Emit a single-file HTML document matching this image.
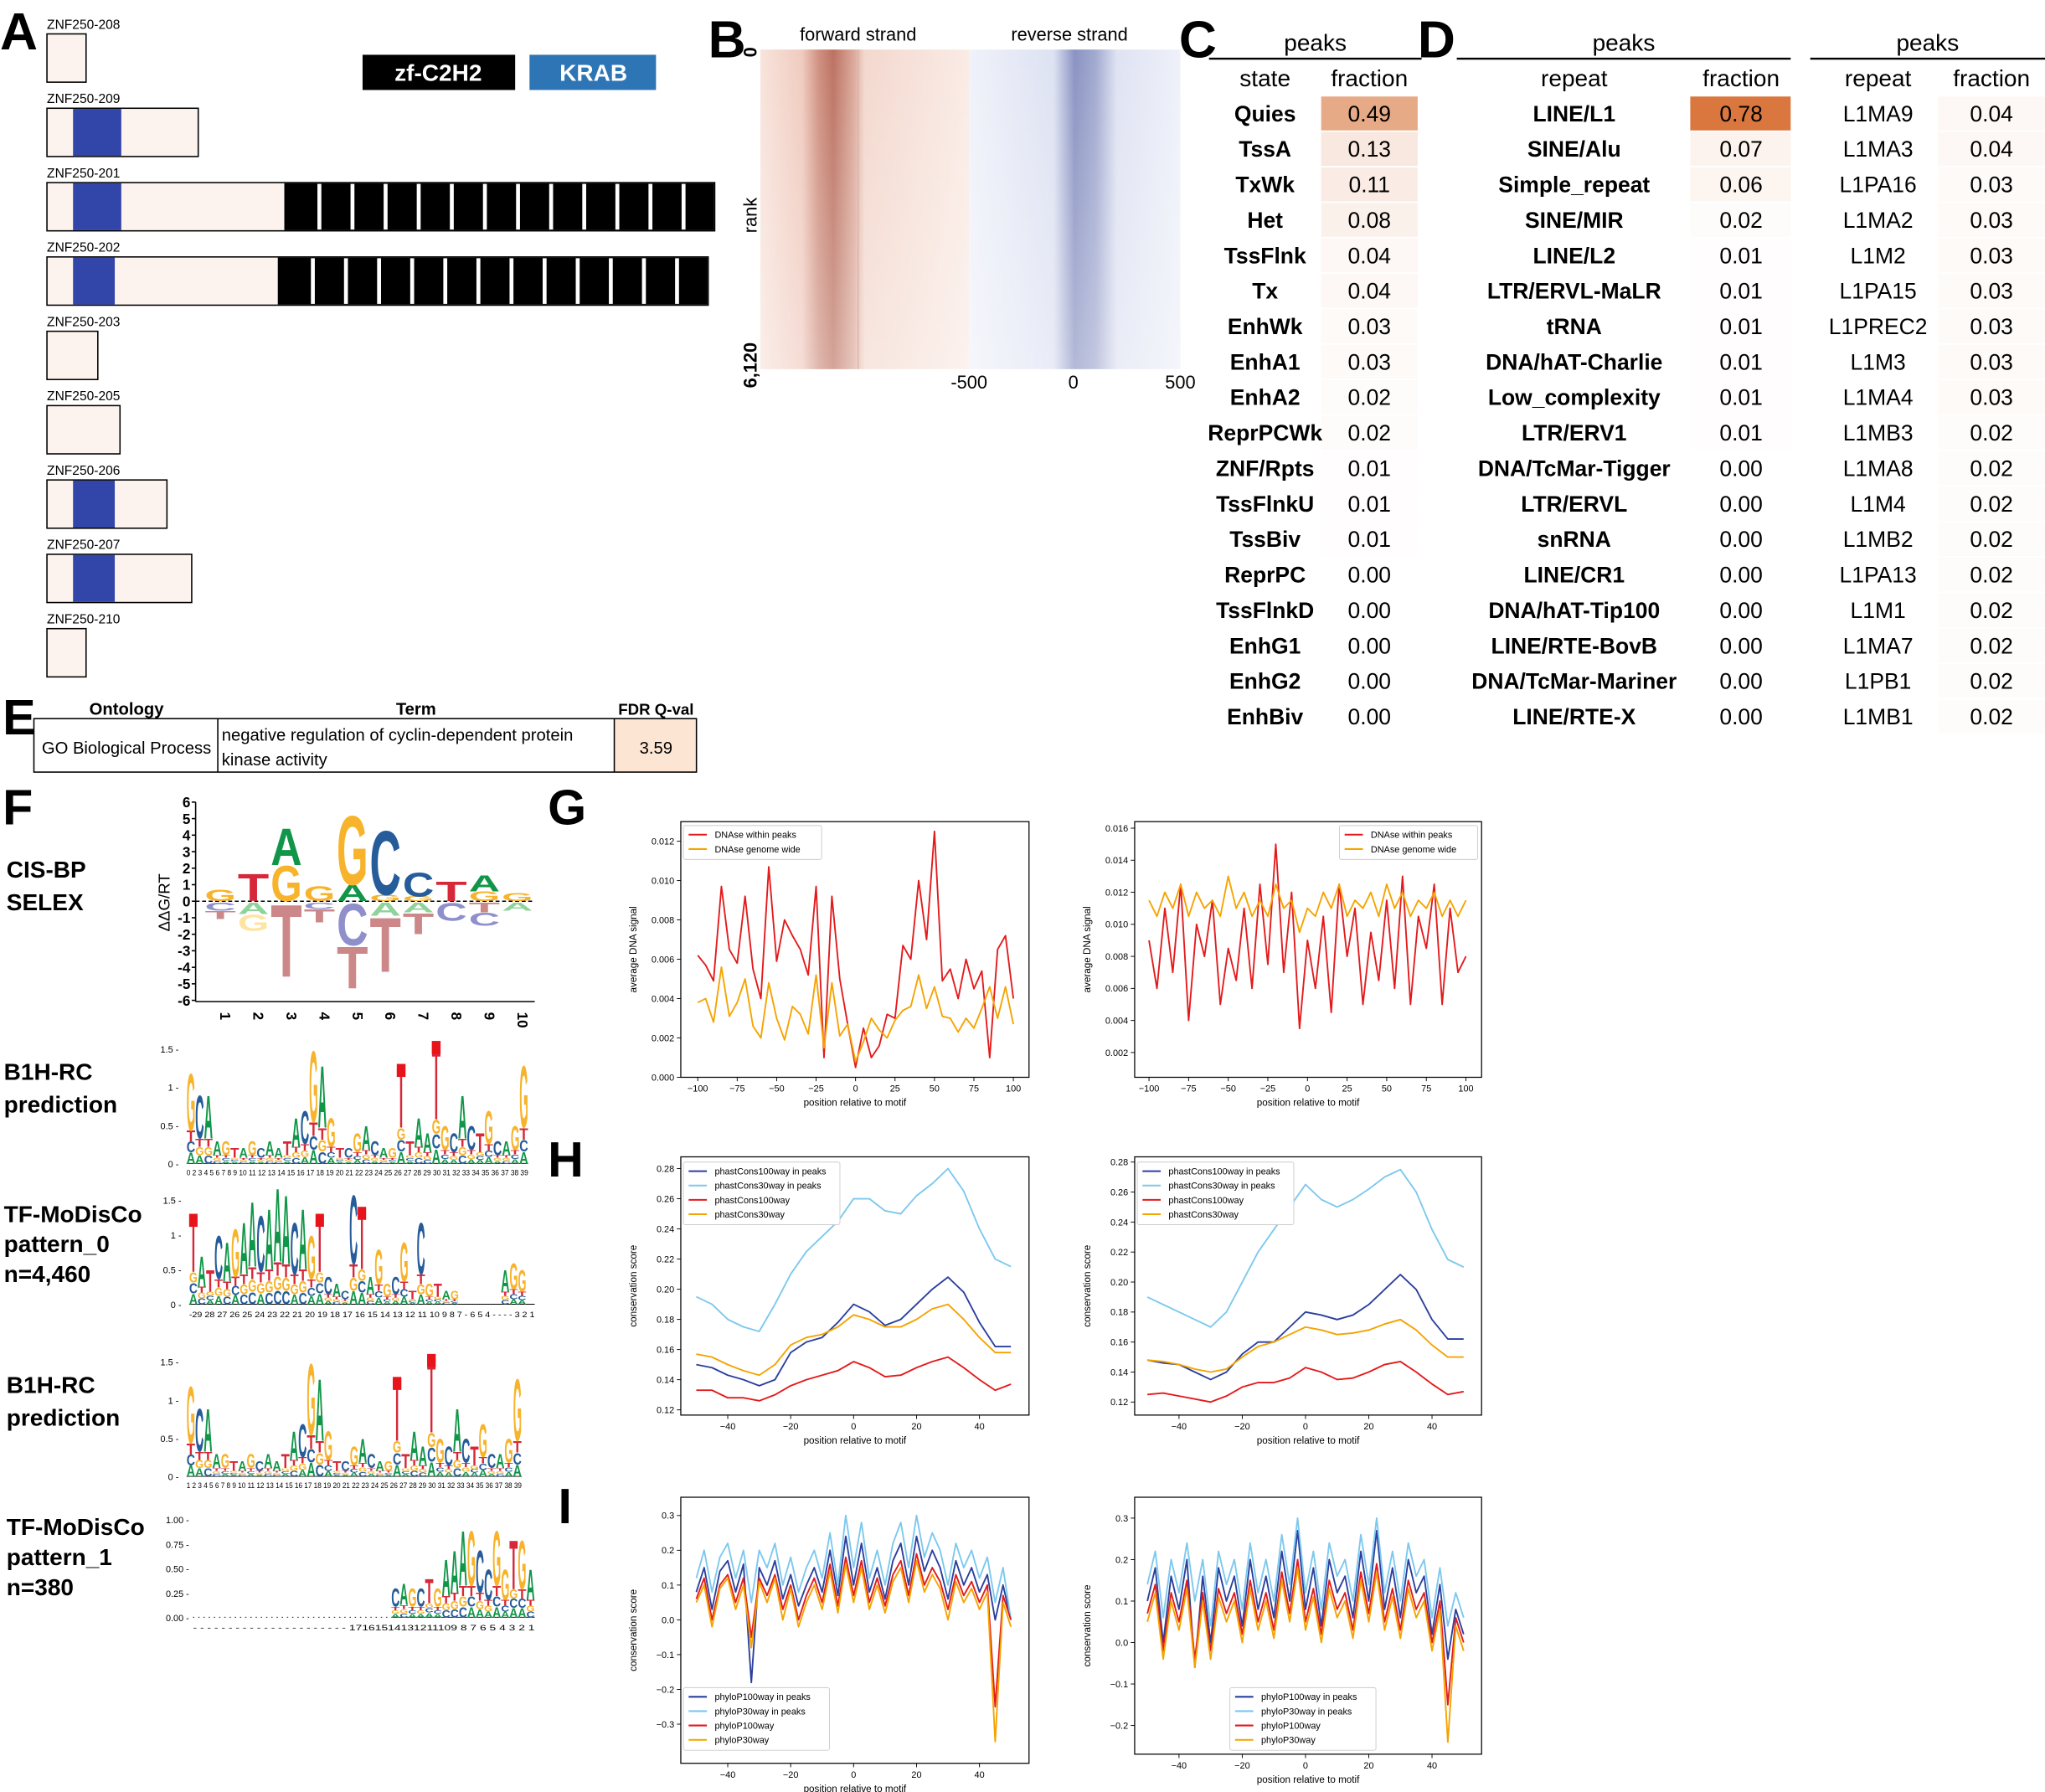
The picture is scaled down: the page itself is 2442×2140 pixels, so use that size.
<!DOCTYPE html>
<html><head><meta charset="utf-8"><style>
html,body{margin:0;padding:0;background:#fff;}
svg{display:block;}
text{font-family:"Liberation Sans",sans-serif;}
</style></head>
<body>
<svg id="fig" xmlns="http://www.w3.org/2000/svg" width="2442" height="2140" viewBox="0 0 1568 1374" preserveAspectRatio="none">
<defs>
<linearGradient id="fwdGrad" x1="0" x2="1" y1="0" y2="0">
<stop offset="0" stop-color="#f8e4dc"/><stop offset="0.2" stop-color="#f0cbbf"/><stop offset="0.28" stop-color="#cf9080"/><stop offset="0.35" stop-color="#bc7262"/><stop offset="0.45" stop-color="#dcaa9c"/><stop offset="0.5" stop-color="#f3d8ce"/><stop offset="1" stop-color="#faebe5"/>
</linearGradient>
<linearGradient id="revGrad" x1="0" x2="1" y1="0" y2="0">
<stop offset="0" stop-color="#f0f2fa"/><stop offset="0.4" stop-color="#dde2f2"/><stop offset="0.5" stop-color="#8a93c2"/><stop offset="0.6" stop-color="#a2aad0"/><stop offset="0.7" stop-color="#dfe3f2"/><stop offset="1" stop-color="#eef1f9"/>
</linearGradient>
<linearGradient id="fadeDown" x1="0" x2="0" y1="0" y2="1">
<stop offset="0" stop-color="#fff" stop-opacity="0"/><stop offset="1" stop-color="#fff" stop-opacity="0.35"/>
</linearGradient>
</defs>
</svg>
<script>
// ---------- data ----------
const transcriptNames = ['ZNF250-208','ZNF250-209','ZNF250-201','ZNF250-202','ZNF250-203','ZNF250-205','ZNF250-206','ZNF250-207','ZNF250-210'];
const transcriptEnds = [66,152,548,543,75,92,128,147,66];
const krabEnds = [0,93,93,88,0,0,88,88,0];
const zfStarts = [0,0,218,213,0,0,0,0,0];

const stateNames = ['Quies','TssA','TxWk','Het','TssFlnk','Tx','EnhWk','EnhA1','EnhA2','ReprPCWk','ZNF/Rpts','TssFlnkU','TssBiv','ReprPC','TssFlnkD','EnhG1','EnhG2','EnhBiv'];
const stateFrac = [0.49,0.13,0.11,0.08,0.04,0.04,0.03,0.03,0.02,0.02,0.01,0.01,0.01,0.00,0.00,0.00,0.00,0.00];
const repeatNames = ['LINE/L1','SINE/Alu','Simple_repeat','SINE/MIR','LINE/L2','LTR/ERVL-MaLR','tRNA','DNA/hAT-Charlie','Low_complexity','LTR/ERV1','DNA/TcMar-Tigger','LTR/ERVL','snRNA','LINE/CR1','DNA/hAT-Tip100','LINE/RTE-BovB','DNA/TcMar-Mariner','LINE/RTE-X'];
const repeatFrac = [0.78,0.07,0.06,0.02,0.01,0.01,0.01,0.01,0.01,0.01,0.00,0.00,0.00,0.00,0.00,0.00,0.00,0.00];
const subNames = ['L1MA9','L1MA3','L1PA16','L1MA2','L1M2','L1PA15','L1PREC2','L1M3','L1MA4','L1MB3','L1MA8','L1M4','L1MB2','L1PA13','L1M1','L1MA7','L1PB1','L1MB1'];
const subFrac = [0.04,0.04,0.03,0.03,0.03,0.03,0.03,0.03,0.03,0.02,0.02,0.02,0.02,0.02,0.02,0.02,0.02,0.02];

// G: DNase (x = -100..100 step 5)
const gX = [-100,-95,-90,-85,-80,-75,-70,-65,-60,-55,-50,-45,-40,-35,-30,-25,-20,-15,-10,-5,0,5,10,15,20,25,30,35,40,45,50,55,60,65,70,75,80,85,90,95,100];
const g1Red = [0.0062,0.0057,0.0049,0.0097,0.0065,0.0058,0.0092,0.0055,0.0040,0.0107,0.0059,0.0080,0.0072,0.0065,0.0052,0.0097,0.0010,0.0092,0.0050,0.0027,0.0005,0.0025,0.0010,0.0016,0.0032,0.0030,0.0067,0.0060,0.0100,0.0070,0.0125,0.0049,0.0055,0.0040,0.0060,0.0045,0.0054,0.0010,0.0065,0.0072,0.0040];
const g1Orange = [0.0038,0.0040,0.0028,0.0056,0.0031,0.0038,0.0050,0.0026,0.0020,0.0048,0.0030,0.0019,0.0036,0.0032,0.0022,0.0052,0.0015,0.0048,0.0021,0.0027,0.0008,0.0018,0.0030,0.0024,0.0020,0.0029,0.0034,0.0036,0.0052,0.0035,0.0046,0.0031,0.0030,0.0023,0.0030,0.0025,0.0035,0.0046,0.0030,0.0046,0.0027];
const g2Red = [0.0090,0.0060,0.0110,0.0070,0.0125,0.0040,0.0100,0.0080,0.0115,0.0050,0.0085,0.0065,0.0110,0.0060,0.0125,0.0075,0.0150,0.0070,0.0120,0.0035,0.0090,0.0060,0.0105,0.0045,0.0125,0.0080,0.0110,0.0050,0.0095,0.0065,0.0115,0.0060,0.0130,0.0050,0.0105,0.0085,0.0125,0.0050,0.0110,0.0070,0.0080];
const g2Orange = [0.0115,0.0105,0.0120,0.0110,0.0125,0.0105,0.0120,0.0110,0.0115,0.0105,0.0130,0.0110,0.0120,0.0105,0.0115,0.0105,0.0125,0.0110,0.0115,0.0095,0.0110,0.0105,0.0120,0.0110,0.0125,0.0105,0.0115,0.0110,0.0120,0.0105,0.0125,0.0110,0.0120,0.0105,0.0115,0.0110,0.0120,0.0105,0.0115,0.0105,0.0115];

// H: phastCons (x = -50..50 step 5)
const hX = [-50,-45,-40,-35,-30,-25,-20,-15,-10,-5,0,5,10,15,20,25,30,35,40,45,50];
const h1Light = [0.195,0.19,0.18,0.175,0.172,0.19,0.21,0.225,0.235,0.245,0.26,0.26,0.252,0.25,0.262,0.27,0.28,0.265,0.24,0.22,0.215];
const h1Dark = [0.15,0.148,0.143,0.14,0.136,0.14,0.158,0.165,0.168,0.178,0.19,0.185,0.176,0.18,0.19,0.2,0.208,0.198,0.178,0.162,0.162];
const h1Red = [0.133,0.133,0.128,0.128,0.126,0.13,0.136,0.14,0.143,0.146,0.152,0.148,0.142,0.143,0.148,0.152,0.155,0.148,0.14,0.133,0.137];
const h1Orange = [0.157,0.155,0.15,0.146,0.143,0.15,0.163,0.168,0.17,0.175,0.183,0.18,0.175,0.175,0.18,0.187,0.19,0.18,0.168,0.158,0.158];
const h2Light = [0.19,0.185,0.18,0.175,0.17,0.18,0.2,0.22,0.235,0.25,0.265,0.255,0.25,0.255,0.262,0.27,0.275,0.26,0.235,0.215,0.21];
const h2Dark = [0.148,0.146,0.145,0.14,0.135,0.14,0.152,0.16,0.16,0.17,0.18,0.178,0.175,0.178,0.185,0.195,0.205,0.195,0.175,0.162,0.162];
const h2Red = [0.125,0.126,0.124,0.122,0.12,0.124,0.13,0.133,0.133,0.136,0.143,0.14,0.135,0.136,0.14,0.145,0.147,0.14,0.132,0.125,0.127];
const h2Orange = [0.148,0.147,0.145,0.142,0.14,0.142,0.15,0.157,0.16,0.165,0.17,0.168,0.165,0.166,0.168,0.172,0.175,0.168,0.158,0.15,0.15];

// I: phyloP (x = -50..50 step 2.5)
const iX = [-50,-47.5,-45,-42.5,-40,-37.5,-35,-32.5,-30,-27.5,-25,-22.5,-20,-17.5,-15,-12.5,-10,-7.5,-5,-2.5,0,2.5,5,7.5,10,12.5,15,17.5,20,22.5,25,27.5,30,32.5,35,37.5,40,42.5,45,47.5,50];
const i1Light = [0.12,0.2,0.08,0.18,0.22,0.12,0.2,0.05,0.2,0.15,0.22,0.1,0.18,0.08,0.15,0.2,0.12,0.25,0.1,0.3,0.15,0.28,0.12,0.2,0.1,0.22,0.28,0.15,0.3,0.18,0.25,0.2,0.1,0.22,0.15,0.2,0.12,0.18,0.05,0.15,0.0];
const i1Dark = [0.08,0.15,0.03,0.14,0.17,0.08,0.16,-0.18,0.15,0.1,0.17,0.06,0.13,0.04,0.1,0.15,0.08,0.2,0.07,0.24,0.1,0.22,0.08,0.15,0.06,0.17,0.22,0.1,0.24,0.14,0.2,0.15,0.06,0.17,0.1,0.15,0.08,0.13,0.0,0.1,0.0];
const i1Red = [0.06,0.12,0.0,0.1,0.13,0.05,0.12,-0.05,0.12,0.07,0.13,0.03,0.1,0.0,0.07,0.12,0.05,0.16,0.04,0.18,0.07,0.17,0.05,0.12,0.04,0.13,0.17,0.07,0.19,0.1,0.15,0.11,0.03,0.13,0.07,0.11,0.05,0.1,-0.25,0.07,0.0];
const i1Orange = [0.05,0.1,-0.02,0.09,0.12,0.03,0.1,-0.08,0.11,0.05,0.12,0.0,0.09,-0.02,0.05,0.1,0.03,0.14,0.02,0.16,0.05,0.15,0.03,0.1,0.02,0.11,0.15,0.05,0.17,0.08,0.13,0.09,0.0,0.11,0.05,0.09,0.03,0.08,-0.35,0.05,-0.02];
const i2Light = [0.14,0.22,0.06,0.2,0.12,0.24,0.1,0.2,0.04,0.22,0.14,0.2,0.08,0.24,0.12,0.2,0.1,0.26,0.14,0.3,0.12,0.22,0.08,0.24,0.16,0.2,0.1,0.26,0.14,0.3,0.12,0.22,0.1,0.24,0.16,0.2,0.06,0.18,0.04,0.12,0.06];
const i2Dark = [0.1,0.18,0.0,0.16,0.08,0.2,-0.06,0.16,0.0,0.18,0.1,0.16,0.04,0.2,0.08,0.16,0.06,0.22,0.1,0.27,0.08,0.18,0.04,0.2,0.12,0.16,0.06,0.22,0.1,0.27,0.08,0.18,0.06,0.2,0.12,0.16,0.02,0.14,-0.04,0.08,0.02];
const i2Red = [0.07,0.14,-0.02,0.12,0.05,0.15,-0.04,0.12,-0.02,0.13,0.07,0.12,0.02,0.15,0.05,0.12,0.03,0.17,0.07,0.2,0.05,0.13,0.02,0.15,0.08,0.12,0.03,0.17,0.07,0.19,0.05,0.13,0.03,0.15,0.08,0.12,0.0,0.1,-0.15,0.06,0.0];
const i2Orange = [0.05,0.12,-0.04,0.1,0.03,0.13,-0.06,0.1,-0.04,0.11,0.05,0.1,0.0,0.13,0.03,0.1,0.01,0.15,0.05,0.18,0.03,0.11,0.0,0.13,0.06,0.1,0.01,0.15,0.05,0.17,0.03,0.11,0.01,0.13,0.06,0.1,-0.02,0.08,-0.24,0.04,-0.02];

// ---------- helpers ----------
const NS = 'http://www.w3.org/2000/svg';
const svg = document.getElementById('fig');
function mk(tag, attrs, name, parent) {
  const el = document.createElementNS(NS, tag);
  for (const k in attrs) el.setAttribute(k, attrs[k]);
  
  
  (parent || svg).appendChild(el);
  return el;
}
function txt(x, y, s, size, opt, name, parent) {
  opt = opt || {};
  const a = {x: x, y: y, 'font-size': size, fill: opt.fill || '#000', 'text-anchor': opt.anchor || 'start'};
  if (opt.bold) a['font-weight'] = 'bold';
  if (opt.transform) a.transform = opt.transform;
  if (opt.len) { a.textLength = opt.len; a.lengthAdjust = 'spacingAndGlyphs'; }
  const el = mk('text', a, name, parent);
  el.textContent = s;
  return el;
}
function lin(v0, p0, v1, p1) { return v => p0 + (v - v0) * (p1 - p0) / (v1 - v0); }

// ---------- Panel A ----------
txt(0, 38, 'A', 40, {bold: true}, 'panel-a-label');
for (let i = 0; i < transcriptNames.length; i++) {
  const ly = 22 + i * 57;
  txt(36, ly, transcriptNames[i], 10, {}, 'transcript-label');
  const by = ly + 4, bh = 37;
  mk('rect', {x: 36, y: by, width: transcriptEnds[i] - 36, height: bh, fill: '#fdf3ee', stroke: '#000', 'stroke-width': 1}, 'transcript-box');
  if (krabEnds[i]) mk('rect', {x: 56, y: by + 0.5, width: krabEnds[i] - 56, height: bh - 1, fill: '#3245a8'}, 'krab-domain');
  if (zfStarts[i]) {
    mk('rect', {x: zfStarts[i], y: by + 0.5, width: transcriptEnds[i] - zfStarts[i] - 0.5, height: bh - 1, fill: '#000'}, 'zf-c2h2-region');
    const n = 13, w = (transcriptEnds[i] - zfStarts[i]) / n;
    for (let k = 1; k < n; k++) mk('rect', {x: zfStarts[i] + k * w, y: by + 1, width: 3, height: bh - 2, fill: '#fff'}, 'zf-separator');
  }
}
mk('rect', {x: 278, y: 42, width: 117, height: 27, fill: '#000'}, 'legend-zf-c2h2-box');
txt(336, 62, 'zf-C2H2', 18, {fill: '#fff', anchor: 'middle', bold: true}, 'legend-zf-c2h2-label');
mk('rect', {x: 406, y: 42, width: 97, height: 27, fill: '#2e75b6'}, 'legend-krab-box');
txt(455, 62, 'KRAB', 18, {fill: '#fff', anchor: 'middle', bold: true}, 'legend-krab-label');

// ---------- Panel B ----------
txt(543, 44, 'B', 40, {bold: true}, 'panel-b-label');
mk('rect', {x: 583, y: 38, width: 160, height: 245, fill: 'url(#fwdGrad)'}, 'forward-strand-heatmap');
mk('rect', {x: 743, y: 38, width: 162, height: 245, fill: 'url(#revGrad)'}, 'reverse-strand-heatmap');
mk('rect', {x: 583, y: 38, width: 322, height: 245, fill: 'url(#fadeDown)'}, 'heatmap-fade');
mk('line', {x1: 658, x2: 658, y1: 38, y2: 283, stroke: '#d8b0a4', 'stroke-width': 0.8}, 'forward-center-line');
txt(658, 31, 'forward strand', 14, {anchor: 'middle'}, 'forward-strand-title');
txt(820, 31, 'reverse strand', 14, {anchor: 'middle'}, 'reverse-strand-title');
txt(580, 165, 'rank', 14, {anchor: 'middle', transform: 'rotate(-90 580 165)'}, 'rank-axis-title');
txt(580, 40, '0', 14, {anchor: 'middle', bold: true, transform: 'rotate(-90 580 40)'}, 'rank-tick-0');
txt(580, 280, '6,120', 14, {anchor: 'middle', bold: true, transform: 'rotate(-90 580 280)'}, 'rank-tick-6120');
txt(743, 298, '-500', 14, {anchor: 'middle'}, 'x-tick-minus500');
txt(823, 298, '0', 14, {anchor: 'middle'}, 'x-tick-0');
txt(905, 298, '500', 14, {anchor: 'middle'}, 'x-tick-500');

// ---------- Tables C & D ----------
function cellColor(v) {
  const t = Math.min(1, v / 0.78);
  const r = Math.round(255 + (217 - 255) * t), g = Math.round(255 + (119 - 255) * t), b = Math.round(255 + (63 - 255) * t);
  return 'rgb(' + r + ',' + g + ',' + b + ')';
}
function table(names, vals, x0, x1, nameX, valX, cellX0, cellX1, nameHeader, tag) {
  txt((x0 + x1) / 2, 39, 'peaks', 18, {anchor: 'middle'}, tag + '-peaks-header');
  mk('line', {x1: x0, x2: x1, y1: 45, y2: 45, stroke: '#000', 'stroke-width': 1.5}, tag + '-header-rule');
  txt(nameX, 66, nameHeader, 18, {anchor: 'middle'}, tag + '-name-header');
  txt(valX, 66, 'fraction', 18, {anchor: 'middle'}, tag + '-fraction-header');
  for (let i = 0; i < names.length; i++) {
    const cy = 87 + i * 27.2;
    mk('rect', {x: cellX0, y: cy - 13, width: cellX1 - cellX0, height: 26, fill: cellColor(vals[i])}, tag + '-fraction-cell');
    txt(nameX, cy + 6, names[i], 17, {anchor: 'middle', bold: tag !== 'subfamily'}, tag + '-row-name');
    txt(valX, cy + 6, vals[i].toFixed(2), 17, {anchor: 'middle'}, tag + '-row-value');
  }
}
txt(904, 44, 'C', 40, {bold: true}, 'panel-c-label');
table(stateNames, stateFrac, 927, 1090, 970, 1050, 1013, 1087, 'state', 'state');
txt(1087, 44, 'D', 40, {bold: true}, 'panel-d-label');
table(repeatNames, repeatFrac, 1117, 1373, 1207, 1335, 1296, 1373, 'repeat', 'repeat');
table(subNames, subFrac, 1388, 1568, 1440, 1527, 1486, 1568, 'repeat', 'subfamily');

// ---------- Panel E ----------
txt(2, 563, 'E', 38, {bold: true}, 'panel-e-label');
txt(97, 548, 'Ontology', 13, {anchor: 'middle', bold: true}, 'ontology-header');
txt(319, 548, 'Term', 13, {anchor: 'middle', bold: true}, 'term-header');
txt(503, 548, 'FDR Q-val', 12, {anchor: 'middle', bold: true}, 'fdr-header');
mk('rect', {x: 471, y: 551, width: 63, height: 41, fill: '#fde5d3'}, 'fdr-cell');
mk('rect', {x: 26, y: 551, width: 508, height: 41, fill: 'none', stroke: '#000', 'stroke-width': 1}, 'go-table-border');
mk('line', {x1: 167, x2: 167, y1: 551, y2: 592, stroke: '#000'}, 'go-table-divider');
mk('line', {x1: 471, x2: 471, y1: 551, y2: 592, stroke: '#000'}, 'go-table-divider');
txt(97, 578, 'GO Biological Process', 13, {anchor: 'middle'}, 'ontology-value');
txt(170, 568, 'negative regulation of cyclin-dependent protein', 13, {}, 'term-value-line1');
txt(170, 587, 'kinase activity', 13, {}, 'term-value-line2');
txt(503, 578, '3.59', 13, {anchor: 'middle'}, 'fdr-value');

// ---------- Panel F ----------
txt(2, 632, 'F', 38, {bold: true}, 'panel-f-label');
const fLabels = [[5, 673, 'CIS-BP'], [5, 698, 'SELEX'], [3, 828, 'B1H-RC'], [3, 853, 'prediction'], [3, 937, 'TF-MoDisCo'], [3, 960, 'pattern_0'], [3, 983, 'n=4,460'], [5, 1068, 'B1H-RC'], [5, 1093, 'prediction'], [5, 1177, 'TF-MoDisCo'], [5, 1200, 'pattern_1'], [5, 1223, 'n=380']];
fLabels.forEach(l => txt(l[0], l[1], l[2], 18, {bold: true}, 'logo-row-label'));

const COL = {A: '#109648', C: '#255c99', G: '#f7b32b', T: '#d62839'};
const PALE = {A: '#8fd29a', C: '#8f8fcc', G: '#fde4a0', T: '#cc8888'};
function letter(ch, x, yTop, w, h, color, name) {
  if (h < 0.8) return;
  const fs = h / 0.72;
  mk('text', {x: x, y: yTop + h, 'font-size': fs, 'font-weight': 'bold', fill: color, textLength: w, lengthAdjust: 'spacingAndGlyphs'}, name).textContent = ch;
}
const cisPos = [['G:0.7'], ['T:1.7'], ['G:2.2', 'A:2.3'], ['G:0.9'], ['A:1.0', 'G:4.3'], ['G:0.4', 'C:4.0'], ['G:0.3', 'C:1.5'], ['T:1.2'], ['G:0.6', 'A:1.0'], ['G:0.5']];
const cisNeg = [['C:-0.5', 'T:-0.5'], ['A:-0.7', 'G:-1.0'], ['T:-4.5'], ['C:-0.4', 'T:-0.8'], ['C:-2.6', 'T:-2.6'], ['A:-0.8', 'T:-3.4'], ['A:-0.6', 'T:-1.3'], ['C:-1.1'], ['T:-0.6', 'C:-0.8'], ['A:-0.5']];
(function () {
  const y = lin(0, 691, 6, 615), ax = 150;
  mk('line', {x1: ax, x2: ax, y1: 615, y2: 768, stroke: '#000'}, 'cis-y-axis');
  mk('line', {x1: ax, x2: 410, y1: 768, y2: 768, stroke: '#000'}, 'cis-x-axis');
  mk('line', {x1: ax, x2: 410, y1: 691, y2: 691, stroke: '#000', 'stroke-dasharray': '3,2'}, 'cis-zero-line');
  for (let t = -6; t <= 6; t++) { txt(ax - 4, y(t) + 4, String(t), 11, {anchor: 'end', bold: true}, 'cis-y-tick'); mk('line', {x1: ax - 3, x2: ax, y1: y(t), y2: y(t), stroke: '#000'}, 'cis-y-tick-mark'); }
  txt(130, 692, 'ΔΔG/RT', 12, {anchor: 'middle', transform: 'rotate(-90 130 692)'}, 'cis-y-title');
  for (let i = 0; i < 10; i++) {
    const cx = 157 + i * 25.3, w = 24;
    txt(cx + 16, 772, String(i + 1), 11, {bold: true, transform: 'rotate(90 ' + (cx + 12) + ' 772)'}, 'cis-x-tick');
    let acc = 0;
    cisPos[i].forEach(s => { const [c, v] = s.split(':'); const h = +v; letter(c, cx, y(acc + h), w, y(acc) - y(acc + h), COL[c], 'cis-letter'); acc += h; });
    acc = 0;
    cisNeg[i].forEach(s => { const [c, v] = s.split(':'); const h = -v; letter(c, cx, y(-acc) + 1, w, y(-acc - h) - y(-acc), PALE[c], 'cis-neg-letter'); acc += h; });
  }
})();
function logo(x0, x1, yBase, yTop, maxV, ticks, letters, heights, name) {
  const y = lin(0, yBase, maxV, yTop);
  mk('line', {x1: x0, x2: x1, y1: yBase, y2: yBase, stroke: '#000', 'stroke-width': 0.6}, name + '-baseline');
  ticks.forEach(t => txt(x0 - 6, y(t) + 3, t + ' -', 7, {anchor: 'end'}, name + '-y-tick'));
  const n = heights.length, w = (x1 - x0) / n;
  for (let i = 0; i < n; i++) {
    const h = heights[i];
    if (h <= 0) continue;
    const c = letters[i];
    const fill = 0.12;
    const others = 'ACGT'.replace(c, '');
    let acc = 0;
    for (let k = 0; k < 3; k++) { letter(others[k], x0 + i * w, y(acc + fill * h), w, y(acc) - y(acc + fill * h), COL[others[k]], name + '-small-letter'); acc += fill * h; }
    letter(c, x0 + i * w, y(h), w, y(acc) - y(h), COL[c], name + '-letter');
    if (h > 1.2 && c === 'T') mk('rect', {x: x0 + i * w, y: y(h), width: w, height: 10, fill: '#e8141c'}, name + '-t-cap');
  }
}
const b1Letters = 'GCAAGTAGCAATACGAGTCGACAGTTAATGCACTGCAGG';
const b1Heights = [1.2, 0.9, 0.9, 0.3, 0.3, 0.2, 0.2, 0.3, 0.2, 0.3, 0.2, 0.3, 0.6, 0.7, 1.5, 1.3, 0.6, 0.2, 0.2, 0.4, 0.5, 0.3, 0.2, 0.2, 1.3, 0.3, 0.6, 0.4, 1.6, 0.5, 0.4, 0.9, 0.5, 0.4, 0.7, 0.3, 0.3, 0.5, 1.3];
logo(143, 405, 892, 804, 1.5, [0.0, 0.5, 1.0, 1.5], b1Letters, b1Heights, 'b1h-logo-1');
txt(143, 901, '0 2 3 4 5 6 7 8 9 10 11 12 13 14 15 16 17 18 19 20 21 22 23 24 25 26 27 28 29 30 31 32 33 34 35 36 37 38 39', 6, {len: 262}, 'b1h-logo-1-x-ticks');
const p0Letters = 'TATCAGAACAAACAGTCACCTAGGCGTCGTAGTCCAGAGGC';
const p0Heights = [1.3, 0.7, 0.5, 1.0, 0.9, 1.1, 1.2, 1.5, 1.3, 1.4, 1.7, 1.6, 1.2, 1.4, 1.0, 1.3, 0.4, 0.3, 0.2, 1.6, 1.4, 0.4, 0.8, 0.3, 0.4, 0.9, 0.2, 1.2, 0.3, 0.3, 0.2, 0.2, 0.0, 0.0, 0.0, 0.0, 0.0, 0.5, 0.6, 0.5, 0.0];
logo(145, 410, 1000, 920, 1.5, [0.0, 0.5, 1.0, 1.5], p0Letters, p0Heights, 'pattern0-logo');
txt(145, 1010, '-29 28 27 26 25 24 23 22 21 20 19 18 17 16 15 14 13 12 11 10 9 8 7 - 6 5 4 - - - - 3 2 1', 6, {len: 265}, 'pattern0-logo-x-ticks');
logo(143, 400, 1132, 1044, 1.5, [0.0, 0.5, 1.0, 1.5], b1Letters, b1Heights, 'b1h-logo-2');
txt(143, 1141, '1 2 3 4 5 6 7 8 9 10 11 12 13 14 15 16 17 18 19 20 21 22 23 24 25 26 27 28 29 30 31 32 33 34 35 36 37 38 39', 6, {len: 257}, 'b1h-logo-2-x-ticks');
const p1Letters = 'CAGCTGAAAGCCGGTGA';
const p1Heights = [0.3, 0.35, 0.3, 0.3, 0.4, 0.3, 0.6, 0.7, 0.9, 0.9, 0.7, 0.5, 0.9, 0.5, 0.8, 0.8, 0.5];
logo(300, 410, 1240, 1165, 1.0, [], p1Letters, p1Heights, 'pattern1-logo');
[0.0, 0.25, 0.5, 0.75, 1.0].forEach(t => txt(145, 1240 - t * 75 + 3, t.toFixed(2) + ' -', 7, {anchor: 'end'}, 'pattern1-y-tick'));
mk('line', {x1: 148, x2: 300, y1: 1240, y2: 1240, stroke: '#000', 'stroke-width': 0.6, 'stroke-dasharray': '1,3'}, 'pattern1-empty-baseline');
txt(148, 1250, '- - - - - - - - - - - - - - - - - - - - - - 17161514131211109 8 7 6 5 4 3 2 1', 6, {len: 262}, 'pattern1-x-ticks');

// ---------- line plots ----------
const C_DARK = '#2a3f9d', C_LIGHT = '#7cc8ee', C_RED = '#e31a1c', C_OR = '#f5a300';
function lineplot(cfg) {
  const f = cfg.frame;
  const xs = lin(cfg.xr[0], cfg.xr[1], cfg.xr[2], cfg.xr[3]);
  const ys = lin(cfg.yr[0], cfg.yr[1], cfg.yr[2], cfg.yr[3]);
  mk('rect', {x: f[0], y: f[1], width: f[2] - f[0], height: f[3] - f[1], fill: '#fff', stroke: '#000', 'stroke-width': 0.8}, cfg.name + '-frame');
  cfg.xticks.forEach(t => {
    mk('line', {x1: xs(t), x2: xs(t), y1: f[3], y2: f[3] + 3, stroke: '#000', 'stroke-width': 0.6}, cfg.name + '-x-tick-mark');
    txt(xs(t), f[3] + 11, String(t).replace('-', '−'), 7, {anchor: 'middle'}, cfg.name + '-x-tick');
  });
  cfg.yticks.forEach(t => {
    mk('line', {x1: f[0] - 3, x2: f[0], y1: ys(t), y2: ys(t), stroke: '#000', 'stroke-width': 0.6}, cfg.name + '-y-tick-mark');
    txt(f[0] - 5, ys(t) + 2.5, t.toFixed(cfg.dec).replace('-', '−'), 7, {anchor: 'end'}, cfg.name + '-y-tick');
  });
  txt((f[0] + f[2]) / 2, f[3] + 22, 'position relative to motif', 7.5, {anchor: 'middle'}, cfg.name + '-x-title');
  const yt = (f[1] + f[3]) / 2, xt = f[0] - 34;
  txt(xt, yt, cfg.ytitle, 7.5, {anchor: 'middle', transform: 'rotate(-90 ' + xt + ' ' + yt + ')'}, cfg.name + '-y-title');
  cfg.series.forEach(s => {
    const d = s.vals.map((v, i) => (i ? 'L' : 'M') + xs(cfg.x[i]).toFixed(2) + ',' + ys(v).toFixed(2)).join('');
    mk('path', {d: d, fill: 'none', stroke: s.color, 'stroke-width': 1.2, 'stroke-linejoin': 'round'}, cfg.name + '-line-' + s.key);
  });
  const lg = cfg.legend, lh = 11;
  mk('rect', {x: lg[0], y: lg[1], width: lg[2], height: cfg.series.length * lh + 4, fill: '#fff', stroke: '#ccc', 'stroke-width': 0.6, rx: 1.5}, cfg.name + '-legend-box');
  cfg.series.forEach((s, i) => {
    const ly = lg[1] + 7 + i * lh;
    mk('line', {x1: lg[0] + 4, x2: lg[0] + 18, y1: ly, y2: ly, stroke: s.color, 'stroke-width': 1.3}, cfg.name + '-legend-swatch');
    txt(lg[0] + 24, ly + 2.5, s.label, 7, {}, cfg.name + '-legend-entry');
  });
}
txt(420, 632, 'G', 38, {bold: true}, 'panel-g-label');
const gT = [-100, -75, -50, -25, 0, 25, 50, 75, 100];
lineplot({name: 'g-plot-1', frame: [522, 630, 789, 826], x: gX, xr: [-100, 535, 100, 777], yr: [0, 826, 0.012, 645], xticks: gT, yticks: [0, 0.002, 0.004, 0.006, 0.008, 0.010, 0.012], dec: 3, ytitle: 'average DNA signal', legend: [524, 633, 106, 0],
  series: [{key: 'red', color: C_RED, vals: g1Red, label: 'DNAse within peaks'}, {key: 'orange', color: C_OR, vals: g1Orange, label: 'DNAse genome wide'}]});
lineplot({name: 'g-plot-2', frame: [870, 630, 1136, 826], x: gX, xr: [-100, 881, 100, 1124], yr: [0.002, 807, 0.016, 635], xticks: gT, yticks: [0.002, 0.004, 0.006, 0.008, 0.010, 0.012, 0.014, 0.016], dec: 3, ytitle: 'average DNA signal', legend: [1027, 633, 106, 0],
  series: [{key: 'red', color: C_RED, vals: g2Red, label: 'DNAse within peaks'}, {key: 'orange', color: C_OR, vals: g2Orange, label: 'DNAse genome wide'}]});

txt(420, 902, 'H', 38, {bold: true}, 'panel-h-label');
const hT = [-40, -20, 0, 20, 40];
const hY = [0.12, 0.14, 0.16, 0.18, 0.20, 0.22, 0.24, 0.26, 0.28];
lineplot({name: 'h-plot-1', frame: [522, 887, 789, 1085], x: hX, xr: [-40, 558, 40, 751], yr: [0.12, 1081, 0.28, 896], xticks: hT, yticks: hY, dec: 2, ytitle: 'conservation score', legend: [524, 891, 120, 0],
  series: [{key: 'dark', color: C_DARK, vals: h1Dark, label: 'phastCons100way in peaks'}, {key: 'light', color: C_LIGHT, vals: h1Light, label: 'phastCons30way in peaks'}, {key: 'red', color: C_RED, vals: h1Red, label: 'phastCons100way'}, {key: 'orange', color: C_OR, vals: h1Orange, label: 'phastCons30way'}]});
lineplot({name: 'h-plot-2', frame: [870, 887, 1136, 1085], x: hX, xr: [-40, 904, 40, 1098], yr: [0.12, 1075, 0.28, 891], xticks: hT, yticks: hY, dec: 2, ytitle: 'conservation score', legend: [872, 891, 120, 0],
  series: [{key: 'dark', color: C_DARK, vals: h2Dark, label: 'phastCons100way in peaks'}, {key: 'light', color: C_LIGHT, vals: h2Light, label: 'phastCons30way in peaks'}, {key: 'red', color: C_RED, vals: h2Red, label: 'phastCons100way'}, {key: 'orange', color: C_OR, vals: h2Orange, label: 'phastCons30way'}]});

txt(428, 1168, 'I', 38, {bold: true}, 'panel-i-label');
lineplot({name: 'i-plot-1', frame: [522, 1148, 789, 1352], x: iX, xr: [-40, 558, 40, 751], yr: [0.3, 1162, -0.3, 1322], xticks: hT, yticks: [-0.3, -0.2, -0.1, 0.0, 0.1, 0.2, 0.3], dec: 1, ytitle: 'conservation score', legend: [524, 1294, 112, 0],
  series: [{key: 'dark', color: C_DARK, vals: i1Dark, label: 'phyloP100way in peaks'}, {key: 'light', color: C_LIGHT, vals: i1Light, label: 'phyloP30way in peaks'}, {key: 'red', color: C_RED, vals: i1Red, label: 'phyloP100way'}, {key: 'orange', color: C_OR, vals: i1Orange, label: 'phyloP30way'}]});
lineplot({name: 'i-plot-2', frame: [870, 1148, 1136, 1345], x: iX, xr: [-40, 904, 40, 1098], yr: [0.3, 1164, -0.2, 1323], xticks: hT, yticks: [-0.2, -0.1, 0.0, 0.1, 0.2, 0.3], dec: 1, ytitle: 'conservation score', legend: [943, 1294, 112, 0],
  series: [{key: 'dark', color: C_DARK, vals: i2Dark, label: 'phyloP100way in peaks'}, {key: 'light', color: C_LIGHT, vals: i2Light, label: 'phyloP30way in peaks'}, {key: 'red', color: C_RED, vals: i2Red, label: 'phyloP100way'}, {key: 'orange', color: C_OR, vals: i2Orange, label: 'phyloP30way'}]});
</script>
</body></html>
